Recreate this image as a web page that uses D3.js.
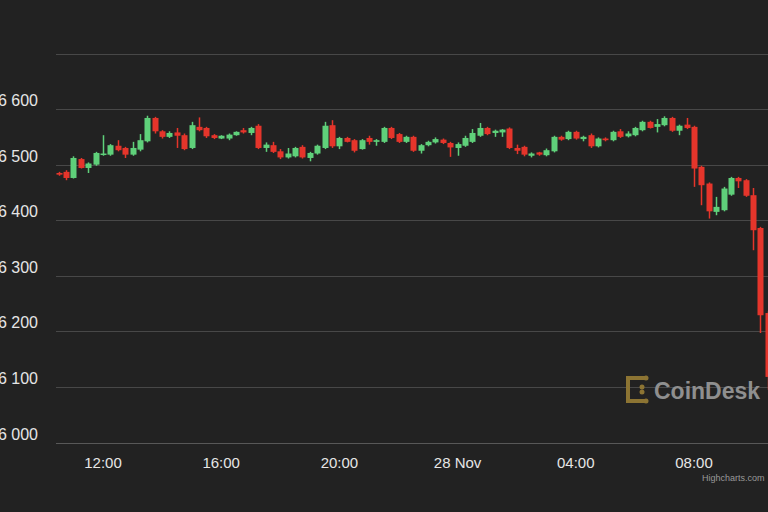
<!DOCTYPE html>
<html>
<head>
<meta charset="utf-8">
<script src="https://cdn.jsdelivr.net/npm/d3@7"></script>
<style>
  html, body { margin: 0; padding: 0; background: #222222; }
  svg { display: block; }
</style>
</head>
<body>
<svg id="chart"></svg>
<script>
// 15-minute candles, first one at 27 Nov 10:30 (UTC)
const startTime = Date.UTC(2018, 10, 27, 10, 30);
const stepMinutes = 15;

const opens = [6485,6487,6476,6510,6494,6500,6518,6518,6534,6530,6518,6527,6542,6584,6560,6550,6558,6553,6530,6568,
  6566,6553,6547,6547,6553,6562,6557,6570,6530,6535,6524,6513,6515,6532,6512,6520,6530,6571,6533,6548,
  6544,6528,6548,6541,6541,6566,6555,6541,6550,6525,6535,6540,6545,6539,6530,6534,6541,6552,6566,6557,
  6558,6565,6530,6532,6516,6522,6517,6524,6550,6546,6559,6546,6553,6533,6547,6544,6560,6551,6553,6562,
  6577,6568,6571,6584,6561,6572,6568,6496,6466,6415,6418,6446,6476,6472,6445,6386,6233];
const highs = [6487,6490,6515,6512,6504,6523,6553,6537,6544,6532,6541,6555,6588,6586,6562,6560,6566,6556,6577,6585,
  6568,6555,6553,6556,6560,6566,6568,6573,6540,6541,6528,6530,6532,6535,6523,6536,6577,6580,6550,6550,
  6546,6546,6552,6546,6568,6568,6557,6552,6552,6537,6543,6549,6547,6541,6540,6552,6564,6575,6568,6563,
  6564,6567,6536,6534,6522,6523,6529,6552,6552,6561,6561,6552,6556,6549,6549,6561,6564,6560,6568,6579,
  6579,6582,6587,6586,6572,6584,6570,6498,6468,6442,6460,6478,6478,6474,6458,6388,6236];
const lows = [6480,6472,6475,6493,6485,6498,6516,6516,6524,6512,6516,6524,6540,6556,6547,6548,6530,6526,6528,6560,
  6548,6546,6546,6544,6552,6556,6553,6528,6523,6521,6510,6511,6513,6511,6506,6518,6528,6530,6528,6540,
  6522,6527,6536,6534,6539,6546,6539,6539,6523,6520,6533,6538,6537,6514,6516,6532,6539,6550,6553,6550,
  6550,6528,6519,6515,6513,6516,6515,6522,6543,6544,6545,6542,6530,6531,6542,6542,6548,6549,6551,6560,
  6565,6558,6569,6559,6553,6564,6460,6427,6403,6409,6416,6444,6458,6442,6346,6197,6095];
const closes = [6482,6476,6512,6494,6502,6521,6520,6535,6526,6518,6530,6544,6584,6560,6550,6557,6552,6528,6571,6562,
  6551,6548,6552,6554,6559,6558,6566,6530,6536,6523,6513,6520,6530,6513,6521,6534,6570,6533,6548,6541,
  6525,6544,6541,6544,6566,6548,6541,6550,6525,6535,6541,6546,6539,6531,6537,6548,6557,6566,6555,6561,
  6563,6530,6525,6518,6520,6518,6526,6550,6545,6559,6547,6550,6533,6547,6544,6559,6550,6556,6566,6577,
  6566,6573,6584,6561,6570,6566,6493,6463,6416,6424,6457,6476,6470,6444,6382,6229,6118];

const yTicks = [6000, 6100, 6200, 6300, 6400, 6500, 6600, 6700];
const xTickHours = [12, 16, 20, 24, 28, 32];

const candles = opens.map((o, i) => ({
  t: new Date(startTime + i * stepMinutes * 60000),
  o, h: highs[i], l: lows[i], c: closes[i]
}));

const W = 768, H = 512;
const svg = d3.select('#chart').attr('width', W).attr('height', H);

const x = d3.scaleTime()
  .domain([new Date(Date.UTC(2018, 10, 27, 12)), new Date(Date.UTC(2018, 10, 28, 8))])
  .range([103, 694]);

const y = d3.scaleLinear()
  .domain([6000, 6700])
  .range([442.5, 53.5]);

// grid
svg.append('g')
  .selectAll('line')
  .data(yTicks).enter()
  .append('line')
  .attr('x1', 56).attr('x2', W)
  .attr('y1', d => Math.round(y(d)) + 0.5)
  .attr('y2', d => Math.round(y(d)) + 0.5)
  .attr('stroke', d => d === 6000 ? '#585858' : '#484848')
  .attr('stroke-width', 1);

// y labels (cut by left edge like the original)
svg.append('g')
  .selectAll('text')
  .data(yTicks.filter(d => d < 6700)).enter()
  .append('text')
  .attr('x', 38)
  .attr('y', d => y(d) - 3)
  .attr('text-anchor', 'end')
  .attr('fill', '#e6e6e6')
  .attr('font-family', 'Liberation Sans, Arial, sans-serif')
  .attr('font-size', 16)
  .text(d => d3.format(',')(d).replace(',', ' '));

// x labels
const xFmt = d => d.getUTCHours() === 0 ? `${d.getUTCDate()} Nov` : d3.utcFormat('%H:%M')(d);
svg.append('g')
  .selectAll('text')
  .data(xTickHours.map(h => new Date(Date.UTC(2018, 10, 27, h)))).enter()
  .append('text')
  .attr('x', d => x(d))
  .attr('y', 468)
  .attr('text-anchor', 'middle')
  .attr('fill', '#e6e6e6')
  .attr('font-family', 'Liberation Sans, Arial, sans-serif')
  .attr('font-size', 15)
  .text(xFmt);

// watermark
const logo = svg.append('g').attr('transform', 'translate(626,376)');
logo.append('rect').attr('x', 0).attr('y', 0).attr('width', 4).attr('height', 27).attr('fill', '#8c7433');
logo.append('rect').attr('x', 0).attr('y', 0).attr('width', 20).attr('height', 4).attr('fill', '#8c7433');
logo.append('rect').attr('x', 0).attr('y', 23).attr('width', 20).attr('height', 4).attr('fill', '#8c7433');
[[20, 2], [20, 25], [16, 11], [16, 16]].forEach(([cx, cy]) =>
  logo.append('circle').attr('cx', cx).attr('cy', cy).attr('r', 2.5).attr('fill', '#8c7433'));
svg.append('text')
  .attr('x', 654).attr('y', 399)
  .attr('fill', '#8f8f8f')
  .attr('font-family', 'Liberation Sans, Arial, sans-serif')
  .attr('font-weight', 'bold')
  .attr('font-size', 23)
  .text('CoinDesk');

// candles
const bw = 6;
const g = svg.append('g');
const col = d => d.c >= d.o ? '#5fd07a' : '#e5352b';
g.selectAll('line.wick')
  .data(candles).enter()
  .append('line')
  .attr('class', 'wick')
  .attr('x1', d => Math.round(x(d.t)) + 0.5)
  .attr('x2', d => Math.round(x(d.t)) + 0.5)
  .attr('y1', d => y(d.h))
  .attr('y2', d => y(d.l))
  .attr('stroke', col)
  .attr('stroke-width', 1.5);
g.selectAll('rect')
  .data(candles).enter()
  .append('rect')
  .attr('x', d => Math.round(x(d.t)) + 0.5 - bw / 2)
  .attr('width', bw)
  .attr('y', d => y(Math.max(d.o, d.c)))
  .attr('height', d => Math.max(1.5, Math.abs(y(d.o) - y(d.c))))
  .attr('fill', col);

svg.append('text')
  .attr('x', 702).attr('y', 481)
  .attr('fill', '#999')
  .attr('font-family', 'Liberation Sans, Arial, sans-serif')
  .attr('font-size', 9)
  .text('Highcharts.com');
</script>
</body>
</html>
